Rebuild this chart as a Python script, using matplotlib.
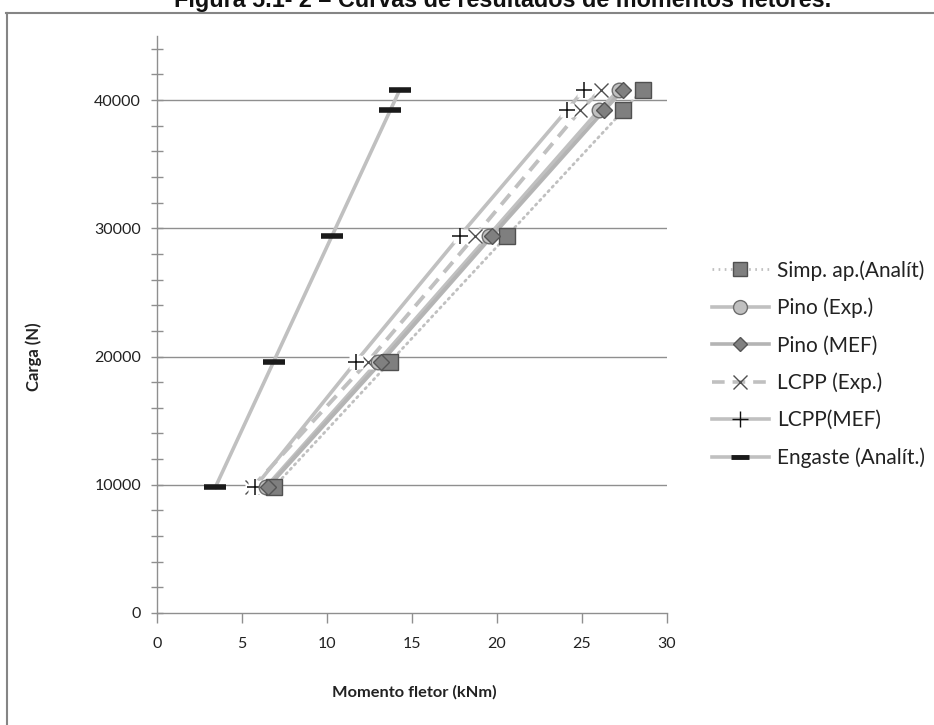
import matplotlib
matplotlib.use("Agg")
import matplotlib.pyplot as plt
from matplotlib.lines import Line2D
from matplotlib.ticker import MultipleLocator

# Load steps (N) and bending moments (kNm) for each series
carga = [9800, 19600, 29400, 39200, 40800]
simp_ap = [6.86, 13.72, 20.58, 27.44, 28.56]
pino_exp = [6.4, 13.0, 19.5, 26.0, 27.2]
pino_mef = [6.5, 13.2, 19.7, 26.3, 27.4]
lcpp_exp = [5.6, 12.4, 18.7, 24.9, 26.1]
lcpp_mef = [5.75, 11.7, 17.8, 24.1, 25.1]
engaste = [3.43, 6.86, 10.29, 13.72, 14.28]

labels = ["Simp. ap.(Analít)", "Pino (Exp.)", "Pino (MEF)",
          "LCPP (Exp.)", "LCPP(MEF)", "Engaste (Analít.)"]

plt.rcParams["font.family"] = ["Lato", "DejaVu Sans"]

W, H = 934, 725
fig = plt.figure(figsize=(W / 100, H / 100), dpi=100)
ax = fig.add_axes([157 / W, 1 - 613 / H, (667 - 157) / W, (613 - 36) / H])

line_c = "#c0c0c0"
grid_c = "#8f8f8f"
text_c = "#222222"

# series lines
ax.plot(simp_ap, carga, color=line_c, lw=2.0, ls=(0, (0.6, 1.6)),
        dash_capstyle="round", zorder=2)
ax.plot(pino_exp, carga, color=line_c, lw=2.8, zorder=2)
ax.plot(pino_mef, carga, color="#b4b4b4", lw=2.8, zorder=2)
ax.plot(lcpp_exp, carga, color=line_c, lw=2.8, ls=(0, (3.5, 2.2)), zorder=2)
ax.plot(lcpp_mef, carga, color=line_c, lw=2.6, zorder=2)
ax.plot(engaste, carga, color=line_c, lw=2.6, zorder=2)

# markers (X and + carry a white square background)
ax.plot(lcpp_exp, carga, ls="none", marker="s", ms=10, mfc="white",
        mec="none", zorder=3)
ax.plot(lcpp_exp, carga, ls="none", marker="x", ms=10, mew=1.0,
        mec="#505050", zorder=3.1)
ax.plot(lcpp_mef, carga, ls="none", marker="s", ms=10, mfc="white",
        mec="none", zorder=3.2)
ax.plot(lcpp_mef, carga, ls="none", marker="+", ms=12, mew=1.1,
        mec="#101010", zorder=3.3)
ax.plot(pino_exp, carga, ls="none", marker="o", ms=10.5, mfc="#c0c0c0",
        mec="#6e6e6e", mew=1.0, zorder=4)
ax.plot(simp_ap, carga, ls="none", marker="s", ms=11.5, mfc="#7f7f7f",
        mec="#505050", mew=1.0, zorder=5)
ax.plot(pino_mef, carga, ls="none", marker="D", ms=8.5, mfc="#808080",
        mec="#555555", mew=1.0, zorder=6)
ax.plot(engaste, carga, ls="none", marker="_", ms=16, mew=4.0,
        mec="#1a1a1a", solid_capstyle="butt", zorder=6)

ax.set_xlim(0, 30)
ax.set_ylim(0, 45000)
ax.xaxis.set_major_locator(MultipleLocator(5))
ax.yaxis.set_major_locator(MultipleLocator(10000))
ax.yaxis.set_minor_locator(MultipleLocator(2000))
ax.set_yticks([0, 10000, 20000, 30000, 40000])

for s in ["top", "right"]:
    ax.spines[s].set_visible(False)
for s in ["left", "bottom"]:
    ax.spines[s].set_color(grid_c)
    ax.spines[s].set_linewidth(1.0)

for y in [10000, 20000, 30000, 40000]:
    ax.axhline(y, color=grid_c, lw=1.0, zorder=1)

ax.tick_params(axis="y", which="both", direction="inout", length=9,
               width=1.0, color=grid_c, labelsize=11.5, pad=7,
               labelcolor=text_c)
ax.tick_params(axis="x", which="major", direction="out", length=7,
               width=1.0, color=grid_c, labelsize=11.5, pad=10,
               labelcolor=text_c)

fig.text(414 / W, 1 - 692 / H, "Momento fletor (kNm)", ha="center",
         va="center", fontsize=11.8, fontweight="bold", color=text_c)
fig.text(34 / W, 1 - 357 / H, "Carga (N)", ha="center", va="center",
         rotation=90, fontsize=12, fontweight="bold", color=text_c)

# legend
handles = [
    Line2D([], [], color=line_c, lw=2.0, ls=(0, (0.6, 1.6)),
           marker="s", ms=10, mfc="#7f7f7f", mec="#505050"),
    Line2D([], [], color=line_c, lw=2.6, marker="o", ms=10,
           mfc="#c0c0c0", mec="#6e6e6e"),
    Line2D([], [], color="#b4b4b4", lw=2.6, marker="D", ms=7.5,
           mfc="#808080", mec="#555555"),
    Line2D([], [], color=line_c, lw=2.6, ls=(0, (3.5, 2.2)),
           marker="x", ms=10, mec="#505050", mew=1.0),
    Line2D([], [], color=line_c, lw=2.6, marker="+", ms=12,
           mec="#101010", mew=1.0),
    Line2D([], [], color=line_c, lw=2.6, marker="_", ms=13, mew=3.5,
           mec="#1a1a1a"),
]
fig.legend(handles, labels, loc="center left",
           bbox_to_anchor=(706 / W, 1 - 364 / H), frameon=False,
           fontsize=15, handlelength=2.7, labelspacing=0.82,
           handletextpad=0.43, labelcolor=text_c, borderaxespad=0,
           borderpad=0.3)

# title (partly above the page edge) and outer frame
fig.text(503 / W, 1 - 6.5 / H,
         "Figura 5.1- 2 – Curvas de resultados de momentos fletores.",
         ha="center", va="baseline", fontsize=16.8, fontweight="bold",
         family=["Liberation Sans", "DejaVu Sans"], color="#111111")
fig.add_artist(Line2D([6 / W, 1], [1 - 12.5 / H, 1 - 12.5 / H],
                      transform=fig.transFigure, color="#858585", lw=1.5))
fig.add_artist(Line2D([7 / W, 7 / W], [0, 1 - 12.5 / H],
                      transform=fig.transFigure, color="#858585", lw=1.5))

fig.savefig("out.png", dpi=100)
